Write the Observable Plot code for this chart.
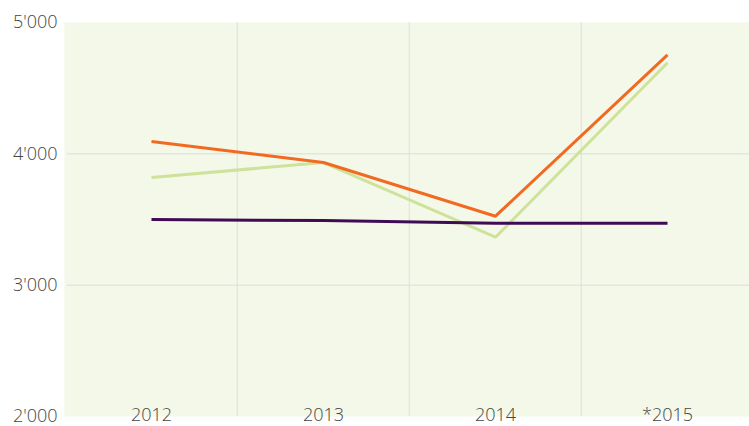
<!DOCTYPE html>
<html>
<head>
<meta charset="utf-8">
<script src="https://cdn.jsdelivr.net/npm/d3@7"></script>
<script src="https://cdn.jsdelivr.net/npm/@observablehq/plot@0.6"></script>
<style>
  html, body { margin: 0; padding: 0; background: #ffffff; overflow: hidden; }
</style>
</head>
<body>
<div id="chart"></div>
<script>
const years = ["2012", "2013", "2014", "*2015"];
const seriesA = [4094, 3934, 3525, 4754];
const seriesB = [3820, 3934, 3365, 4693];
const seriesC = [3500, 3492, 3472, 3472];
const yTicks = [2000, 3000, 4000, 5000];
const gridValues = [3000, 4000];

const series = [
  {name: "Serie B", values: seriesB, color: "#cfe29b"},
  {name: "Serie A", values: seriesA, color: "#f26a22"},
  {name: "Serie C", values: seriesC, color: "#3f0b54"}
];
const data = series.flatMap(s => s.values.map((v, i) => ({series: s.name, year: years[i], value: v})));

const fmt = d3.formatLocale({decimal: ".", thousands: "'", grouping: [3], currency: ["", ""]}).format(",");

const x0 = 64, x1 = 754;
const step = (x1 - x0) / years.length;

const chart = Plot.plot({
  width: 749,
  height: 426,
  marginTop: 22,
  marginBottom: 10,
  marginLeft: 64,
  marginRight: 0,
  style: {fontFamily: "'Open Sans', sans-serif", fontSize: "18px", fontWeight: 300, color: "#444", background: "#ffffff", overflow: "hidden"},
  x: {type: "point", domain: years, range: [x0, x1], padding: 0.5},
  y: {domain: [2000, 5000]},
  color: {type: "ordinal", domain: series.map(s => s.name), range: series.map(s => s.color)},
  marks: [
    Plot.frame({fill: "#f4f8e8", stroke: "none"}),
    Plot.ruleY(gridValues, {stroke: "#dcdcdc", strokeWidth: 1, insetLeft: 3}),
    Plot.ruleX(years.slice(1), {dx: -step / 2, stroke: "#dedede", strokeWidth: 1}),
    Plot.line(data, {x: "year", y: "value", z: "series", stroke: "series", strokeWidth: 3, strokeLinecap: "butt", strokeLinejoin: "miter"}),
    Plot.axisY({ticks: yTicks, tickSize: 0, tickPadding: 7, tickFormat: fmt, label: null, fill: "#444"}),
    Plot.axisX({tickSize: 0, tickPadding: -8, label: null, fill: "#444"})
  ]
});
document.getElementById("chart").appendChild(chart);
</script>
</body>
</html>
